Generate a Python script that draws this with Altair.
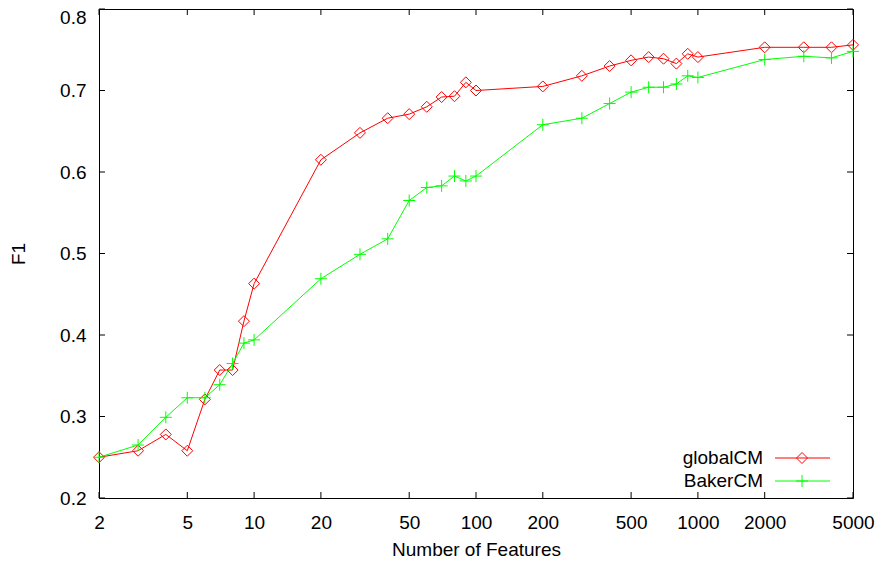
import altair as alt
import pandas as pd

# ---- data ----
features = [2, 3, 4, 5, 6, 7, 8, 9, 10, 20, 30, 40, 50, 60, 70, 80, 90, 100,
            200, 300, 400, 500, 600, 700, 800, 900, 1000, 2000, 3000, 4000, 5000]
global_cm = [0.250, 0.258, 0.278, 0.258, 0.321, 0.357, 0.357, 0.417, 0.463,
             0.615, 0.648, 0.666, 0.671, 0.680, 0.692, 0.693, 0.710, 0.700,
             0.705, 0.718, 0.730, 0.737, 0.741, 0.739, 0.733, 0.745, 0.741,
             0.753, 0.753, 0.753, 0.756]
baker_cm = [0.250, 0.265, 0.299, 0.323, 0.323, 0.339, 0.365, 0.390, 0.394,
            0.469, 0.499, 0.518, 0.565, 0.581, 0.583, 0.595, 0.589, 0.595,
            0.658, 0.666, 0.684, 0.698, 0.704, 0.704, 0.708, 0.718, 0.716,
            0.738, 0.742, 0.740, 0.748]
series_names = ["globalCM", "BakerCM"]
series_colors = ["#ff0000", "#00ff00"]
x_ticks = [2, 5, 10, 20, 50, 100, 200, 500, 1000, 2000, 5000]
y_ticks = [0.2, 0.3, 0.4, 0.5, 0.6, 0.7, 0.8]
x_title = "Number of Features"
y_title = "F1"

# ---- layout ----
W, H = 754, 489
FONT = "Liberation Sans"
FS = 19
TICK = 6
PLUS = "M-1,0L1,0M0,-1L0,1"

xscale = alt.Scale(type="log", domain=[2, 5000], nice=False)
yscale = alt.Scale(domain=[0.2, 0.8], nice=False, zero=False)

x_enc = alt.X("feature:Q", scale=xscale, title=x_title,
              axis=alt.Axis(values=x_ticks, format="d", labelPadding=30,
                            labelBaseline="alphabetic", labelFlush=False,
                            labelOverlap=False, titleY=57,
                            titleBaseline="alphabetic"))
y_enc = alt.Y("f1:Q", scale=yscale, title=y_title,
              axis=alt.Axis(values=y_ticks, format=".1f", labelPadding=13,
                            labelFlush=False, labelOverlap=False,
                            labelOffset=alt.ExprRef("datum.value > 0.79 ? 8 : 0"),
                            titleX=-81, titleY=H / 2, titleAngle=-90,
                            titleAlign="center", titleBaseline="middle"))

df_g = pd.DataFrame({"feature": features, "f1": global_cm})
df_b = pd.DataFrame({"feature": features, "f1": baker_cm})

line_g = alt.Chart(df_g).mark_line(color=series_colors[0], strokeWidth=1).encode(x=x_enc, y=y_enc)
pts_g = alt.Chart(df_g).mark_point(shape="diamond", filled=False, size=121,
                                   color=series_colors[0], strokeWidth=1, opacity=1).encode(x=x_enc, y=y_enc)
line_b = alt.Chart(df_b).mark_line(color=series_colors[1], strokeWidth=1).encode(x=x_enc, y=y_enc)
pts_b = alt.Chart(df_b).mark_point(shape=PLUS, filled=False, size=144,
                                   color=series_colors[1], strokeWidth=1, opacity=1).encode(x=x_enc, y=y_enc)

# inward mirrored ticks
xt = pd.DataFrame({"feature": x_ticks})
yt = pd.DataFrame({"f1": y_ticks})
tick_b = alt.Chart(xt).mark_rule(color="black", strokeWidth=1).encode(
    x=x_enc, y=alt.value(H), y2=alt.value(H - TICK))
tick_t = alt.Chart(xt).mark_rule(color="black", strokeWidth=1).encode(
    x=x_enc, y=alt.value(0), y2=alt.value(TICK))
tick_l = alt.Chart(yt).mark_rule(color="black", strokeWidth=1).encode(
    y=y_enc, x=alt.value(0), x2=alt.value(TICK))
tick_r = alt.Chart(yt).mark_rule(color="black", strokeWidth=1).encode(
    y=y_enc, x=alt.value(W), x2=alt.value(W - TICK))

# gnuplot-style key (label, then line sample with marker)
key_layers = []
key_rows = [(series_names[0], series_colors[0], "diamond", 121, 449),
            (series_names[1], series_colors[1], PLUS, 144, 472)]
for name, col, shp, sz, ky in key_rows:
    kd = pd.DataFrame({"label": [name]})
    key_layers.append(alt.Chart(kd).mark_text(align="right", baseline="middle", font=FONT,
                                              fontSize=FS, color="black").encode(
        x=alt.value(664), y=alt.value(ky), text="label:N"))
    key_layers.append(alt.Chart(kd).mark_rule(color=col, strokeWidth=1).encode(
        x=alt.value(676), x2=alt.value(731), y=alt.value(ky)))
    key_layers.append(alt.Chart(kd).mark_point(shape=shp, filled=False, size=sz, color=col,
                                               strokeWidth=1, opacity=1).encode(
        x=alt.value(703), y=alt.value(ky)))

chart = alt.layer(
    tick_b, tick_t, tick_l, tick_r,
    line_g, pts_g, line_b, pts_b,
    *key_layers
).properties(
    width=W, height=H,
    background="white",
    autosize=alt.AutoSizeParams(type="none"),
    padding={"left": 91, "top": 1, "right": 23, "bottom": 63},
).configure_view(
    stroke="black", strokeWidth=1
).configure_axis(
    domain=False, ticks=False, grid=False,
    labelFont=FONT, labelFontSize=FS, labelColor="black",
    titleFont=FONT, titleFontSize=FS, titleColor="black", titleFontWeight="normal",
)

chart.save("out.html", embed_options={"renderer": "svg", "actions": False})
